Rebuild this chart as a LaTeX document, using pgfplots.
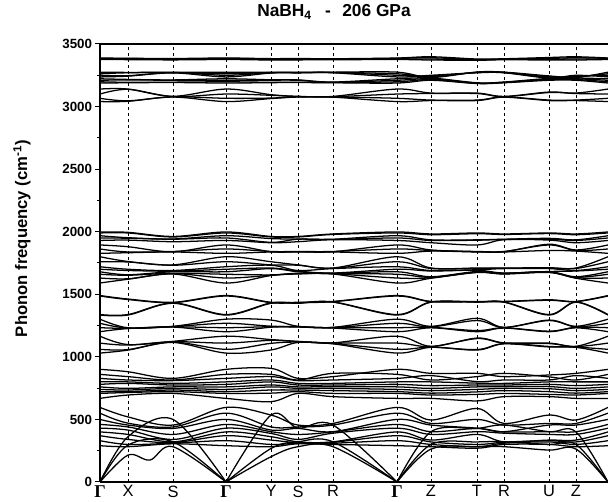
\documentclass[border=0pt]{standalone}
\usepackage{pgfplots}
\pgfplotsset{compat=1.18}
\usepackage{fontspec}
\setmainfont{Liberation Sans}
\newfontfamily\gfont{Liberation Serif}
\newcommand{\G}{{\gfont\bfseries\fontsize{13.5}{14}\selectfont Γ}}
\pgfplotsset{bnd/.style={black, line width=0.95pt, smooth, tension=0.55, mark=none}}
% band: values at Gamma, X, S, Y, R, Z, T, U (path G-X-S-G-Y-S-R-G-Z-T-R-U-Z-G)
\newcommand{\band}[8]{\addplot[bnd] coordinates {(0,#1)(28,#2)(73,#3)(126,#1)(171,#4)(198,#3)(233,#5)(297,#1)(331,#6)(377,#7)(404,#5)(449,#8)(476,#6)(508,#1)};}
\begin{document}
\begin{tikzpicture}
\begin{axis}[
  at={(0,0)}, anchor=south west,
  scale only axis, width=381pt, height=328.5pt,
  xmin=0, xmax=508, ymin=0, ymax=3500,
  axis x line*=bottom, axis y line*=left,
  axis line style={-, line width=1pt},
  xtick={0,28,73,126,171,198,233,297,331,377,404,449,476},
  xticklabels={\G,X,S,\G,Y,S,R,\G,Z,T,R,U,Z},
  xmajorgrids, major x grid style={black, line width=0.6pt, dash pattern=on 2.5pt off 2pt},
  every tick/.style={black, line width=0.75pt},
  xtick style={draw=none},
  xticklabel style={font=\fontsize{12.3}{14}\selectfont, anchor=north, inner sep=0pt, yshift=1.2pt},
  ytick={0,500,1000,1500,2000,2500,3000,3500},
  yticklabels={0,500,1000,1500,2000,2500,3000,3500},
  minor y tick num=1,
  tick align=outside,
  major tick length=3.75pt, minor tick length=1.9pt,
  yticklabel style={font=\bfseries\fontsize{10}{12}\selectfont, anchor=east, inner sep=0pt, xshift=-2pt},
  ylabel={Phonon frequency (cm\textsuperscript{-1})},
  ylabel style={font=\bfseries\fontsize{12.5}{15}\selectfont, at={(axis description cs:-0.1535,0.556)}, anchor=center},
  title={NaBH\textsubscript{4}\hspace*{10pt}-\hspace*{8.5pt}206 GPa},
  title style={font=\bfseries\fontsize{13}{15}\selectfont, at={(axis description cs:0.4606,1)}, anchor=base, yshift=14.25pt},
]
% --- B-H stretching region
\band{3388}{3386}{3384}{3383}{3382}{3398}{3380}{3392}
\band{3385}{3384}{3380}{3380}{3380}{3390}{3376}{3385}
\band{3380}{3380}{3377}{3376}{3378}{3380}{3372}{3378}
\band{3376}{3375}{3373}{3372}{3374}{3372}{3370}{3372}
\band{3275}{3273}{3274}{3274}{3275}{3232}{3276}{3245}
\band{3262}{3270}{3272}{3272}{3273}{3238}{3274}{3238}
\band{3250}{3247}{3271}{3270}{3272}{3244}{3272}{3232}
\band{3237}{3243}{3269}{3268}{3270}{3250}{3270}{3228}
\band{3222}{3217}{3213}{3214}{3196}{3228}{3190}{3225}
\band{3210}{3213}{3210}{3211}{3194}{3222}{3188}{3220}
\band{3198}{3194}{3195}{3194}{3192}{3216}{3186}{3215}
\band{3188}{3190}{3192}{3191}{3190}{3210}{3184}{3210}
\band{3140}{3140}{3082}{3095}{3081}{3108}{3108}{3116}
\band{3100}{3138}{3080}{3090}{3079}{3104}{3104}{3112}
\band{3066}{3046}{3078}{3068}{3077}{3052}{3052}{3052}
\band{3040}{3042}{3076}{3064}{3075}{3048}{3048}{3048}
% --- bending region 1000-2000
\band{1998}{1995}{1962}{1962}{1982}{1982}{1990}{1990}
\band{1990}{1990}{1958}{1958}{1978}{1976}{1984}{1985}
\band{1968}{1952}{1942}{1945}{1940}{1935}{1935}{1947}
\band{1950}{1948}{1940}{1915}{1938}{1930}{1932}{1940}
\band{1930}{1933}{1920}{1912}{1936}{1912}{1894}{1933}
\band{1894}{1880}{1840}{1840}{1840}{1854}{1840}{1900}
\band{1862}{1838}{1842}{1842}{1842}{1850}{1842}{1894}
\band{1827}{1832}{1838}{1838}{1838}{1845}{1838}{1850}
\band{1800}{1762}{1735}{1760}{1710}{1710}{1710}{1712}
\band{1760}{1758}{1732}{1735}{1708}{1706}{1706}{1708}
\band{1720}{1700}{1690}{1732}{1705}{1690}{1696}{1705}
\band{1700}{1690}{1685}{1710}{1670}{1686}{1692}{1682}
\band{1680}{1656}{1680}{1705}{1668}{1640}{1682}{1680}
\band{1660}{1652}{1668}{1655}{1666}{1636}{1678}{1678}
\band{1630}{1624}{1665}{1652}{1664}{1632}{1676}{1676}
\band{1590}{1620}{1662}{1650}{1662}{1628}{1674}{1674}
\band{1490}{1462}{1436}{1436}{1443}{1443}{1443}{1456}
\band{1486}{1458}{1433}{1433}{1441}{1441}{1441}{1452}
\band{1338}{1338}{1431}{1431}{1439}{1439}{1439}{1338}
\band{1334}{1334}{1428}{1428}{1437}{1437}{1437}{1334}
\band{1301}{1232}{1244}{1294}{1236}{1244}{1308}{1294}
\band{1268}{1230}{1242}{1245}{1234}{1240}{1290}{1290}
\band{1233}{1228}{1240}{1241}{1232}{1236}{1210}{1205}
\band{1201}{1226}{1238}{1237}{1230}{1232}{1201}{1201}
\band{1165}{1098}{1124}{1138}{1112}{1084}{1150}{1110}
\band{1110}{1094}{1121}{1132}{1110}{1082}{1146}{1106}
\band{1060}{1058}{1118}{1108}{1106}{1078}{1058}{1083}
\band{1030}{1054}{1115}{1055}{1104}{1076}{1054}{1079}
% --- 640-910
\band{900}{881}{828}{908}{842}{868}{868}{855}
\band{860}{842}{815}{860}{868}{815}{842}{840}
\band{828}{815}{810}{842}{815}{850}{802}{815}
\band{800}{800}{788}{815}{788}{800}{790}{800}
\band{780}{788}{775}{800}{775}{770}{775}{780}
\band{760}{748}{760}{775}{762}{748}{760}{762}
\band{740}{735}{748}{760}{748}{730}{740}{745}
\band{722}{722}{735}{735}{730}{710}{720}{722}
\band{708}{715}{722}{710}{708}{695}{700}{700}
\band{668}{695}{708}{642}{682}{668}{648}{682}
% --- 250-600
\band{596}{520}{455}{535}{468}{495}{588}{535}
\band{550}{470}{440}{440}{455}{468}{500}{468}
\band{500}{455}{428}{415}{402}{455}{430}{455}
\band{460}{440}{380}{402}{400}{402}{428}{402}
\band{430}{415}{340}{388}{390}{380}{402}{380}
\band{400}{380}{321}{362}{321}{335}{380}{335}
\band{370}{340}{315}{335}{318}{320}{300}{330}
\band{330}{300}{310}{300}{310}{300}{282}{320}
\band{290}{282}{305}{282}{300}{282}{270}{300}
% --- acoustic branches
\addplot[bnd] coordinates {(0,0)(28,215)(50,175)(73,282)(126,0)};
\addplot[bnd] coordinates {(126,0)(171,202)(198,282)(233,282)(297,0)};
\addplot[bnd] coordinates {(297,0)(331,263)(377,282)(404,282)(449,255)(476,263)(508,0)};
\addplot[bnd] coordinates {(0,0)(28,295)(73,321)(126,0)};
\addplot[bnd] coordinates {(126,0)(171,268)(198,321)(233,321)(297,0)};
\addplot[bnd] coordinates {(297,0)(331,300)(377,320)(404,321)(449,300)(476,300)(508,0)};
\addplot[bnd] coordinates {(0,0)(28,362)(73,500)(126,0)};
\addplot[bnd] coordinates {(126,0)(171,535)(198,430)(233,455)(297,0)};
\addplot[bnd] coordinates {(297,0)(331,402)(377,428)(404,455)(449,402)(476,400)(508,0)};
\end{axis}
\draw[line width=1pt] (current axis.north west) -- (current axis.north east);
\pgfresetboundingbox
\path[use as bounding box] (-75pt,-15pt) rectangle (381pt,361.5pt);
\end{tikzpicture}
\end{document}
